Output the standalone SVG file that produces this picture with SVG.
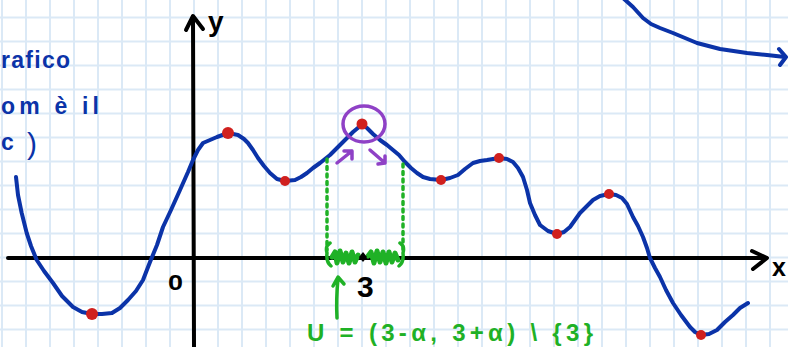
<svg xmlns="http://www.w3.org/2000/svg" width="788" height="347" viewBox="0 0 788 347">
<defs>
<style>
.grid line{stroke:#dbe9f6;stroke-width:2}
.axis{stroke:#000;stroke-width:4;fill:none;stroke-linecap:round;stroke-linejoin:round}
.curve{stroke:#0b33a8;stroke-width:4;fill:none;stroke-linecap:round;stroke-linejoin:round}
.dot{fill:#d0201e}
.green{stroke:#1fb126;fill:none;stroke-linecap:round;stroke-linejoin:round}
.purple{stroke:#8f41c6;fill:none;stroke-width:3.5;stroke-linecap:round;stroke-linejoin:round}
.lbl{font-family:"Liberation Sans",Arial,sans-serif;font-weight:bold;fill:#000}
.note{font-family:"Liberation Sans",Arial,sans-serif;font-weight:bold;fill:#0b33a8;font-size:23px}
.gtxt{font-family:"Liberation Sans",Arial,sans-serif;font-weight:bold;fill:#1fb126;font-size:24px}
</style>
</defs>
<rect width="788" height="347" fill="#fff"/>
<g class="grid" id="grid">
<line x1="2" y1="0" x2="2" y2="347"/><line x1="26" y1="0" x2="26" y2="347"/><line x1="50" y1="0" x2="50" y2="347"/><line x1="74" y1="0" x2="74" y2="347"/><line x1="98" y1="0" x2="98" y2="347"/><line x1="122" y1="0" x2="122" y2="347"/><line x1="146" y1="0" x2="146" y2="347"/><line x1="170" y1="0" x2="170" y2="347"/><line x1="194" y1="0" x2="194" y2="347"/><line x1="218" y1="0" x2="218" y2="347"/><line x1="242" y1="0" x2="242" y2="347"/><line x1="266" y1="0" x2="266" y2="347"/><line x1="290" y1="0" x2="290" y2="347"/><line x1="314" y1="0" x2="314" y2="347"/><line x1="338" y1="0" x2="338" y2="347"/><line x1="362" y1="0" x2="362" y2="347"/><line x1="386" y1="0" x2="386" y2="347"/><line x1="410" y1="0" x2="410" y2="347"/><line x1="434" y1="0" x2="434" y2="347"/><line x1="458" y1="0" x2="458" y2="347"/><line x1="482" y1="0" x2="482" y2="347"/><line x1="506" y1="0" x2="506" y2="347"/><line x1="530" y1="0" x2="530" y2="347"/><line x1="554" y1="0" x2="554" y2="347"/><line x1="578" y1="0" x2="578" y2="347"/><line x1="602" y1="0" x2="602" y2="347"/><line x1="626" y1="0" x2="626" y2="347"/><line x1="650" y1="0" x2="650" y2="347"/><line x1="674" y1="0" x2="674" y2="347"/><line x1="698" y1="0" x2="698" y2="347"/><line x1="722" y1="0" x2="722" y2="347"/><line x1="746" y1="0" x2="746" y2="347"/><line x1="770" y1="0" x2="770" y2="347"/>
<line x1="0" y1="17.5" x2="788" y2="17.5"/><line x1="0" y1="41.5" x2="788" y2="41.5"/><line x1="0" y1="65.5" x2="788" y2="65.5"/><line x1="0" y1="89.5" x2="788" y2="89.5"/><line x1="0" y1="113.5" x2="788" y2="113.5"/><line x1="0" y1="137.5" x2="788" y2="137.5"/><line x1="0" y1="161.5" x2="788" y2="161.5"/><line x1="0" y1="185.5" x2="788" y2="185.5"/><line x1="0" y1="209.5" x2="788" y2="209.5"/><line x1="0" y1="233.5" x2="788" y2="233.5"/><line x1="0" y1="257.5" x2="788" y2="257.5"/><line x1="0" y1="281.5" x2="788" y2="281.5"/><line x1="0" y1="305.5" x2="788" y2="305.5"/><line x1="0" y1="329.5" x2="788" y2="329.5"/>
</g>
<g id="notes">
<text class="note" x="1" y="68" textLength="69" lengthAdjust="spacing">rafico</text>
<text class="note" x="1" y="114" textLength="98" lengthAdjust="spacing">om è il</text>
<text class="note" x="1" y="150">c</text>
<text class="note" x="27" y="154" style="font-weight:normal;font-size:30px">)</text>
</g>
<g id="axes">
<line class="axis" x1="8" y1="258" x2="766" y2="258"/>
<polyline class="axis" points="752,251 767,258 753,269"/>
<line class="axis" x1="194" y1="347" x2="193" y2="17"/>
<polyline class="axis" points="186,30 193,16 203,29"/>
<text class="lbl" x="208" y="31" font-size="28">y</text>
<text class="lbl" x="772" y="276" font-size="25">x</text>
<text class="lbl" x="168" y="290" font-size="22" textLength="15" lengthAdjust="spacingAndGlyphs">0</text>
<text class="lbl" x="357" y="297" font-size="30">3</text>
</g>
<g id="upper-curve">
<polyline class="curve" points="623,-2 633,7 643,18 651,24 660,28 673,33 685,38 697,43 720,49 747,53 767,55 785,57"/>
<polyline class="curve" points="779,49 786,57 780,65"/>
</g>
<g id="function">
<polyline class="curve" points="16,177 18,195 21.7,213 26.7,233 31,246 36.7,260 44,271 53,283 62,296 73,307 82,312 92,314 102,314 112,313 120,308 128,300 136,291 143,280 150,262 157,245 163,227 171,210 180,190 188,172 193,160 198,150 203,143 210,140 217,137 228,133 238,135 244,139 248,143 253,150 258,158 264,166 270,173 277,179 285,181 295,180 301,177 307,173 313,168 320,163 330,155 337,148 342,143 347,138 353,132 359,127 362,124 367,128 373,134 380,140 387,145 393,150 399,155 405,162 411,168 417,173 423,177 430,179 441,180 450,178 458,175 465,169 473,163 480,161 487,160 499,158 507,159 513,162 518,168 523,177 527,190 530,203 535,215 540,225 548,231 557,234 564,232 570,227 575,220 580,213 587,206 593,200 600,196 609,194 616,195 622,198 627,204 633,217 638,226 643,237 647,248 650,258 655,268 660,277 666,290 673,303 681,315 690,327 695,332 701,335 709,334 717,330 725,322 733,315 740,308 748,303"/>
</g>
<g id="extrema">
<circle class="dot" cx="92" cy="314" r="6"/>
<circle class="dot" cx="228" cy="133" r="6"/>
<circle class="dot" cx="285" cy="181" r="5"/>
<circle class="dot" cx="362" cy="124" r="5.5"/>
<circle class="dot" cx="441" cy="180" r="5"/>
<circle class="dot" cx="499" cy="158" r="5"/>
<circle class="dot" cx="557" cy="234" r="5"/>
<circle class="dot" cx="609" cy="194" r="5"/>
<circle class="dot" cx="701" cy="335" r="5"/>
</g>
<g id="neighbourhood">
<line class="green" x1="327" y1="159" x2="327" y2="250" stroke-width="3.5" stroke-dasharray="3 4.5"/>
<line class="green" x1="403" y1="164" x2="403" y2="250" stroke-width="3.5" stroke-dasharray="3 4.5"/>
<path class="green" stroke-width="3.5" d="M330,243 Q325,246 327,253 Q326,262 331,266"/>
<path class="green" stroke-width="3.5" d="M400,243 Q405,246 403,253 Q404,262 399,266"/>
<path class="green" stroke-width="5" d="M332,257 L335,252 L337,263 L340,251 L343,262 L346,253 L349,263 L352,252 L355,262 L358,255 M368,256 L371,252 L374,263 L377,251 L380,262 L383,252 L386,263 L389,252 L392,262 L395,253 L398,260"/>
<path d="M363,252 L367,257 L363,262 L359,257 Z" fill="#000"/>
<path class="green" stroke-width="3.5" d="M337,318 Q336,300 338,278 M333,286 L338,277 L344,284"/>
<text class="gtxt" x="307" y="341" textLength="286" lengthAdjust="spacing">U = (3-α, 3+α) \ {3}</text>
</g>
<g id="maximum-mark">
<ellipse class="purple" cx="364" cy="124" rx="21" ry="18"/>
<path class="purple" d="M337,163 L352,151 M344,151 L352,151 L352,159"/>
<path class="purple" d="M370,150 L385,163 M378,164 L385,163 L385,156"/>
</g>
</svg>
